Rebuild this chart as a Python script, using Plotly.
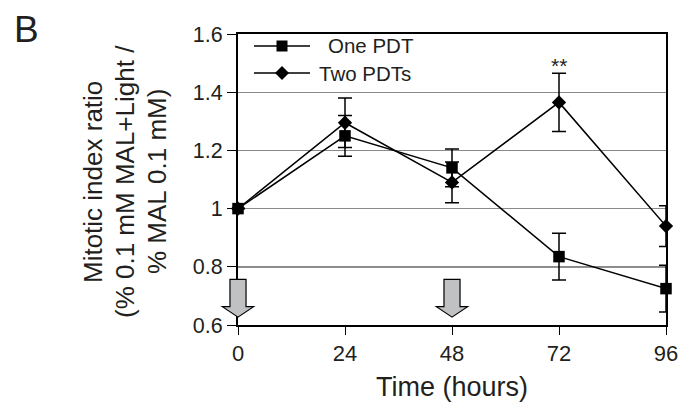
import plotly.graph_objects as go

hours = [0, 24, 48, 72, 96]
one_pdt = [1.0, 1.25, 1.14, 0.835, 0.725]
one_pdt_err = [0.0, 0.07, 0.065, 0.08, 0.08]
two_pdts = [1.0, 1.295, 1.09, 1.365, 0.94]
two_pdts_err = [0.0, 0.085, 0.07, 0.10, 0.07]
x_ticks = [0, 24, 48, 72, 96]
y_ticks = [0.6, 0.8, 1.0, 1.2, 1.4, 1.6]
y_tick_labels = ["0.6", "0.8", "1", "1.2", "1.4", "1.6"]
series_names = ["One PDT", "Two PDTs"]
arrow_times = [0, 48]
sig_time = 72
sig_label = "**"
y_title_lines = ["Mitotic index ratio", "(% 0.1 mM MAL+Light /", "% MAL 0.1 mM)"]

FONT = "Liberation Sans, Arial, sans-serif"
TXT = "#231f20"
XR = (0, 96)
YR = (0.6, 1.6)
W, H = 681, 407
ML, MR, MT, MB = 238, 15, 34, 82
PW, PH = W - ML - MR, H - MT - MB


def px(t):
    return (t - XR[0]) / (XR[1] - XR[0])


def py(v):
    return (v - YR[0]) / (YR[1] - YR[0])


def pxp(X):  # page pixel -> paper x
    return (X - ML) / PW


def pyp(Y):  # page pixel -> paper y
    return (H - MB - Y) / PH


fig = go.Figure()
fig.add_trace(go.Scatter(
    x=hours, y=one_pdt, name=series_names[0], mode="lines+markers",
    line=dict(color="black", width=1.5),
    marker=dict(symbol="square", size=11.5, color="black"),
    error_y=dict(type="data", array=one_pdt_err, color="black", thickness=1.5, width=7),
    cliponaxis=False, showlegend=False,
))
fig.add_trace(go.Scatter(
    x=hours, y=two_pdts, name=series_names[1], mode="lines+markers",
    line=dict(color="black", width=1.5),
    marker=dict(symbol="diamond", size=11, color="black"),
    error_y=dict(type="data", array=two_pdts_err, color="black", thickness=1.5, width=7),
    cliponaxis=False, showlegend=False,
))

# Treatment arrows (block arrows, placed from the time values)
dx_shaft = 1.8 / 96
dx_head = 3.5 / 96
for t in arrow_times:
    cx = px(t)
    top = py(0.757)
    neck = py(0.663)
    tip = py(0.627)
    path = (f"M {cx-dx_shaft} {top} L {cx+dx_shaft} {top} L {cx+dx_shaft} {neck} "
            f"L {cx+dx_head} {neck} L {cx} {tip} L {cx-dx_head} {neck} L {cx-dx_shaft} {neck} Z")
    fig.add_shape(type="path", path=path, xref="paper", yref="paper",
                  fillcolor="#c0c1c3", line=dict(color="black", width=1.2), layer="above")

# darker 0.8 grid line as in the reference
fig.add_shape(type="line", xref="paper", yref="y", x0=0, x1=1, y0=0.8, y1=0.8,
              line=dict(color="#222222", width=1.2), layer="below")

# Hand-drawn legend (long key lines as in the reference)
leg_rows = [46, 73]
leg_text_x = [326, 317]
for i, (row, tx, name) in enumerate(zip(leg_rows, leg_text_x, series_names)):
    y = pyp(row)
    fig.add_shape(type="line", xref="paper", yref="paper", x0=pxp(254), x1=pxp(310), y0=y, y1=y,
                  line=dict(color="black", width=1.5))
    if i == 0:
        fig.add_shape(type="rect", xref="paper", yref="paper",
                      x0=pxp(276.5), x1=pxp(287.5), y0=pyp(row + 5.5), y1=pyp(row - 5.5),
                      fillcolor="black", line=dict(width=0))
    else:
        fig.add_shape(type="path", xref="paper", yref="paper",
                      path=(f"M {pxp(275)} {y} L {pxp(282)} {pyp(row-7)} L {pxp(289)} {y} "
                            f"L {pxp(282)} {pyp(row+7)} Z"),
                      fillcolor="black", line=dict(width=0))
    fig.add_annotation(x=pxp(tx), y=y, xref="paper", yref="paper", xanchor="left", yanchor="middle",
                       text=name, showarrow=False, font=dict(size=20.5, color=TXT, family=FONT))

idx = hours.index(sig_time)
fig.add_annotation(x=sig_time, y=two_pdts[idx] + two_pdts_err[idx], text=sig_label,
                   showarrow=False, yanchor="bottom", yshift=-6,
                   font=dict(size=21, color=TXT, family=FONT))

for X, line in zip([93, 125, 157], y_title_lines):
    fig.add_annotation(x=pxp(X), y=pyp(182), xref="paper", yref="paper", textangle=-90,
                       text=line, showarrow=False, xanchor="center", yanchor="middle",
                       font=dict(size=26, color=TXT, family=FONT))

fig.add_annotation(x=pxp(26), y=pyp(29), xref="paper", yref="paper", text="B",
                   xanchor="center", yanchor="middle",
                   showarrow=False, font=dict(size=37, color=TXT, family=FONT))

fig.update_layout(
    width=W, height=H,
    margin=dict(l=ML, r=MR, t=MT, b=MB, autoexpand=False),
    paper_bgcolor="white", plot_bgcolor="white",
    font=dict(family=FONT, color=TXT, size=22),
    showlegend=False,
    xaxis=dict(range=list(XR), tickvals=x_ticks, ticktext=[str(v) for v in x_ticks],
               showgrid=False, zeroline=False, showline=True, linecolor="black", linewidth=2,
               mirror=True, ticks="outside", ticklen=8, tickcolor="black", tickwidth=1,
               automargin=False,
               title=dict(text="Time (hours)", font=dict(size=27, family=FONT, color=TXT),
                          standoff=12),
               tickfont=dict(size=22)),
    yaxis=dict(range=list(YR), tickvals=y_ticks, ticktext=y_tick_labels,
               showgrid=True, gridcolor="#8a8a8a", gridwidth=1.2, zeroline=False,
               showline=True, linecolor="black", linewidth=2, mirror=True,
               ticks="outside", ticklen=9, tickcolor="black", tickwidth=1,
               automargin=False,
               tickfont=dict(size=21.5)),
)

fig.write_html("out.html", config={"displayModeBar": False},
               post_script="document.body.style.margin='0px';document.body.style.overflow='hidden';")
